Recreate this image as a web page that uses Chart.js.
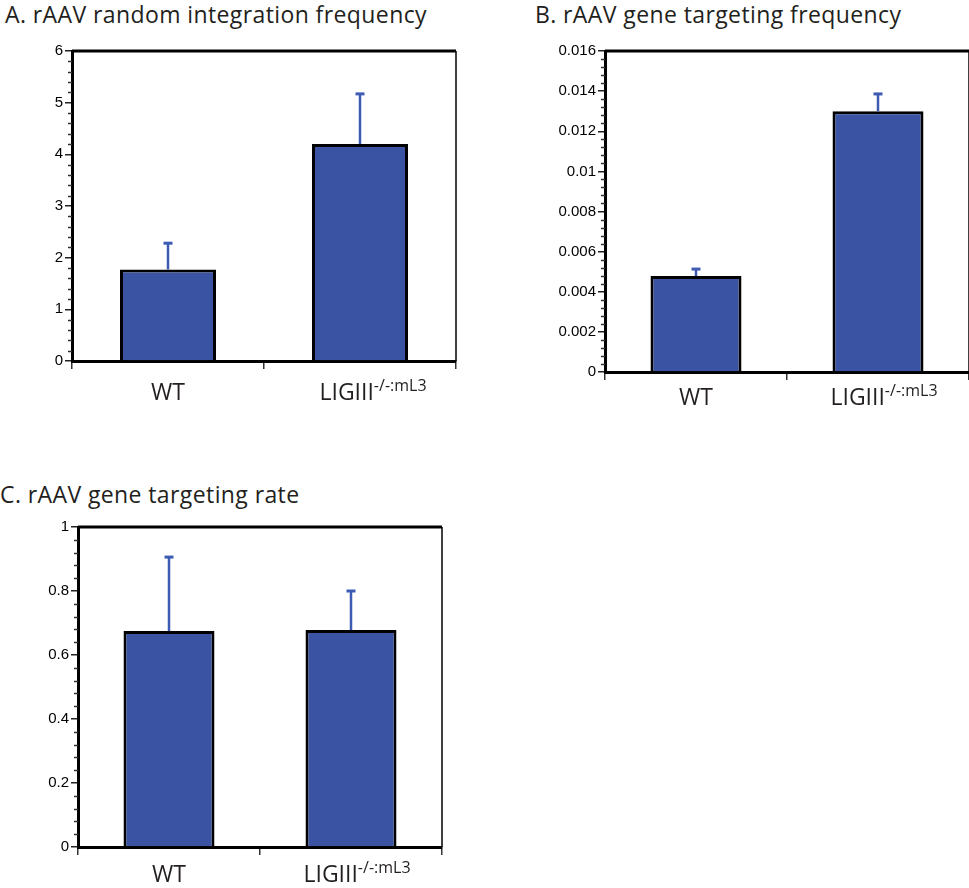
<!DOCTYPE html>
<html>
<head>
<meta charset="utf-8">
<script src="https://cdn.jsdelivr.net/npm/chart.js@4.4.0/dist/chart.umd.min.js"></script>
<style>
body { margin: 0; background: #fff; width: 969px; height: 888px; overflow: hidden; position: relative; }
canvas { position: absolute; }
.title { position: absolute; font-family: "Open Sans"; font-size: 23px; line-height: 23px; letter-spacing: 0.4px; color: #231f20; white-space: nowrap; }
</style>
</head>
<body>
<div class="title" style="left:5px;top:3px">A. rAAV random integration frequency</div>
<div class="title" style="left:535px;top:3px">B. rAAV gene targeting frequency</div>
<div class="title" style="left:0px;top:483px">C. rAAV gene targeting rate</div>
<canvas id="chartA" width="480" height="420" style="left:0;top:0"></canvas>
<canvas id="chartB" width="489" height="420" style="left:480px;top:0"></canvas>
<canvas id="chartC" width="480" height="418" style="left:0;top:470px"></canvas>
<script>
// Categories (main label + superscript part)
const groups = ['WT', 'LIGIII'];
const groupSup = ['', '-/-:mL3'];

// A. random integration frequency
const randomIntegration = [1.77, 4.20];
const randomIntegrationErr = [0.51, 0.97];
const ticksA = [0, 1, 2, 3, 4, 5, 6];

// B. gene targeting frequency
const targetingFreq = [0.00478, 0.0130];
const targetingFreqErr = [0.00035, 0.00086];
const ticksB = [0, 0.002, 0.004, 0.006, 0.008, 0.01, 0.012, 0.014, 0.016];

// C. gene targeting rate
const targetingRate = [0.675, 0.678];
const targetingRateErr = [0.231, 0.122];
const ticksC = [0, 0.2, 0.4, 0.6, 0.8, 1];

const barColor = '#3a54a3';
const errColor = '#3d5bb2';

// error bars, minor ticks, frame and the superscript category labels
const panelDecor = {
    id: 'panelDecor',
    afterDatasetsDraw(chart) {
        const ctx = chart.ctx;
        const y = chart.scales.y;
        const ds = chart.data.datasets[0];
        ctx.save();
        ctx.strokeStyle = errColor;
        chart.getDatasetMeta(0).data.forEach((bar, i) => {
            const top = y.getPixelForValue(ds.data[i] + ds.errors[i]);
            ctx.lineWidth = 2.5;
            ctx.beginPath();
            ctx.moveTo(bar.x, bar.y);
            ctx.lineTo(bar.x, top);
            ctx.stroke();
            ctx.lineWidth = 3;
            ctx.beginPath();
            ctx.moveTo(bar.x - 4.5, top);
            ctx.lineTo(bar.x + 4.5, top);
            ctx.stroke();
        });
        ctx.restore();
    },
    afterDraw(chart, args, opts) {
        const ctx = chart.ctx;
        const area = chart.chartArea;
        const y = chart.scales.y;
        const x = chart.scales.x;
        ctx.save();

        // frame: thick top, thin right
        ctx.strokeStyle = '#000';
        ctx.lineWidth = 3;
        ctx.beginPath();
        ctx.moveTo(area.left, area.top);
        ctx.lineTo(area.right, area.top);
        ctx.stroke();
        ctx.lineWidth = 1.5;
        ctx.beginPath();
        ctx.moveTo(area.right, area.top);
        ctx.lineTo(area.right, area.bottom);
        ctx.stroke();

        // minor ticks
        ctx.strokeStyle = '#333';
        ctx.lineWidth = 1.5;
        const n = Math.round((y.max - y.min) / opts.minor);
        for (let k = 1; k < n; k++) {
            if (k % opts.perMajor === 0) continue;
            const py = Math.round(y.getPixelForValue(y.min + k * opts.minor)) + 0.5;
            ctx.beginPath();
            ctx.moveTo(area.left - 4, py);
            ctx.lineTo(area.left, py);
            ctx.stroke();
        }

        // category labels with superscript
        ctx.fillStyle = '#231f20';
        ctx.textBaseline = 'alphabetic';
        ctx.textAlign = 'left';
        const base = area.bottom + opts.labelDrop;
        groups.forEach((g, i) => {
            const cx = x.getPixelForValue(i);
            ctx.font = '23px "Open Sans"';
            const w1 = ctx.measureText(g).width;
            let w2 = 0;
            if (groupSup[i]) {
                ctx.font = '16px "Open Sans"';
                w2 = ctx.measureText(groupSup[i]).width;
            }
            const start = cx - (w1 + w2) / 2 + (w2 ? opts.supShift : 0);
            ctx.font = '23px "Open Sans"';
            ctx.fillText(g, start, base);
            if (w2) {
                ctx.font = '16px "Open Sans"';
                ctx.fillText(groupSup[i], start + w1, base - 9);
            }
        });
        ctx.restore();
    }
};

function makePanel(id, values, errors, ticks, box, decor) {
    const canvas = document.getElementById(id);
    const W = canvas.width, H = canvas.height;
    return new Chart(canvas, {
        type: 'bar',
        data: {
            labels: groups,
            datasets: [{
                data: values,
                errors: errors,
                backgroundColor: barColor,
                borderColor: '#000',
                borderWidth: 3,
                barPercentage: 0.5,
                categoryPercentage: 1
            }]
        },
        options: {
            responsive: false,
            animation: false,
            layout: { padding: { left: 0, top: box.top, right: W - box.right, bottom: 0 } },
            plugins: {
                legend: { display: false },
                tooltip: { enabled: false },
                panelDecor: decor
            },
            scales: {
                x: {
                    offset: true,
                    border: { color: '#000', width: 3 },
                    grid: { offset: true, drawOnChartArea: false, tickLength: 8, color: '#333', lineWidth: 1.5 },
                    ticks: { display: false },
                    afterFit: s => { s.height = H - box.bottom; }
                },
                y: {
                    min: ticks[0],
                    max: ticks[ticks.length - 1],
                    border: { color: '#000', width: 3 },
                    grid: { drawOnChartArea: false, tickLength: 7, color: '#222', lineWidth: 1.5 },
                    afterBuildTicks: s => { s.ticks = ticks.map(v => ({ value: v })); },
                    ticks: {
                        padding: 2,
                        color: '#000',
                        font: { family: '"Liberation Sans", Arial', size: 15 },
                        callback: v => String(v)
                    },
                    afterFit: s => { s.width = box.left; }
                }
            }
        },
        plugins: [panelDecor]
    });
}

makePanel('chartA', randomIntegration, randomIntegrationErr, ticksA,
    { left: 72, top: 51, right: 456, bottom: 361 },
    { minor: 0.2, perMajor: 5, labelDrop: 39, supShift: 13 });
makePanel('chartB', targetingFreq, targetingFreqErr, ticksB,
    { left: 125, top: 51, right: 489, bottom: 372 },
    { minor: 0.0004, perMajor: 5, labelDrop: 33, supShift: 6 });
makePanel('chartC', targetingRate, targetingRateErr, ticksC,
    { left: 78, top: 57, right: 442, bottom: 377 },
    { minor: 0.04, perMajor: 5, labelDrop: 35, supShift: 6 });
</script>
</body>
</html>
